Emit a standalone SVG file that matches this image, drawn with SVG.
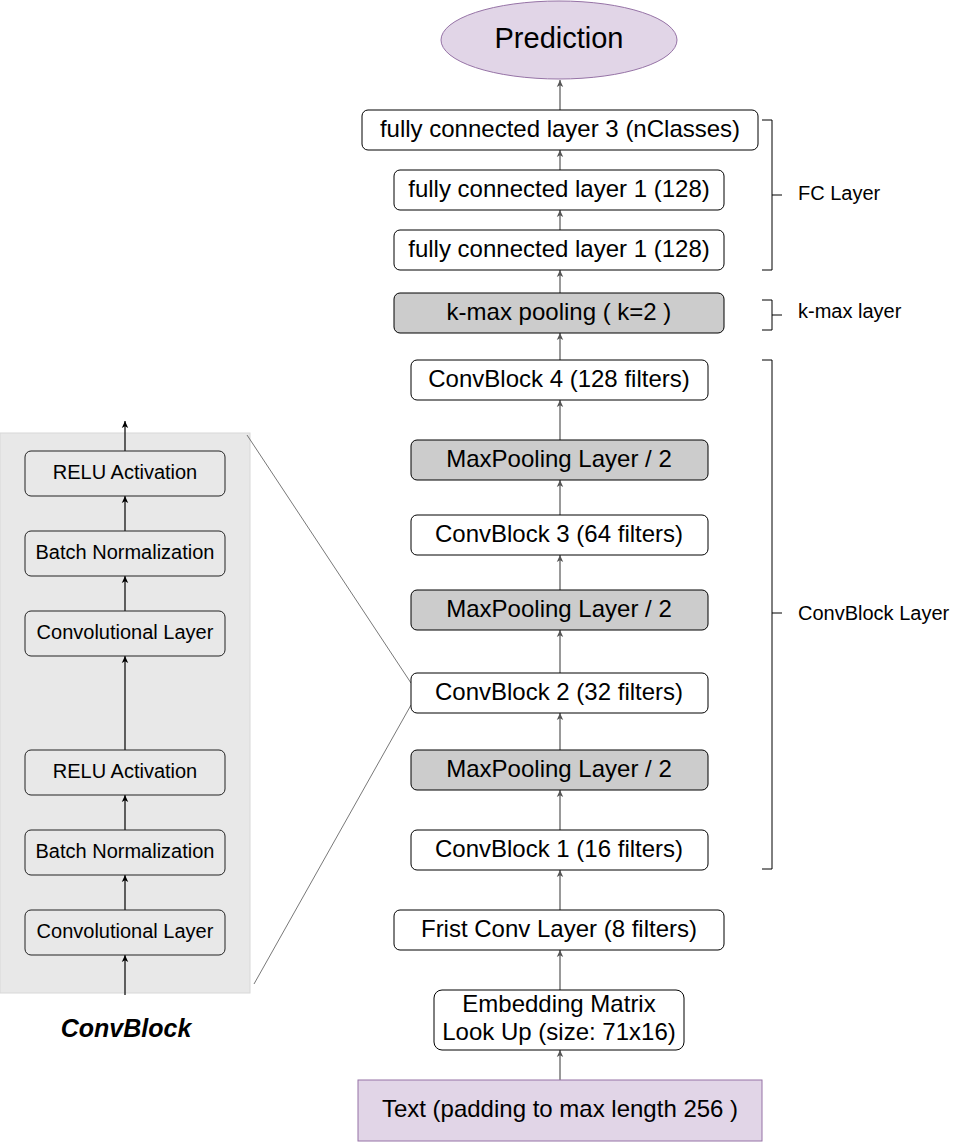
<svg xmlns="http://www.w3.org/2000/svg" width="967" height="1142" viewBox="0 0 967 1142">
<defs>
<marker id="ah" markerWidth="8" markerHeight="8" refX="7" refY="4" orient="auto" markerUnits="userSpaceOnUse">
<path d="M0,0.8 L7,4 L0,7.2 L1.8,4 Z" fill="#555"/>
</marker>
<marker id="ahk" markerWidth="8" markerHeight="8" refX="7" refY="4" orient="auto" markerUnits="userSpaceOnUse">
<path d="M0,0.8 L7,4 L0,7.2 L1.8,4 Z" fill="#000"/>
</marker>
<style>
text{font-family:"Liberation Sans",Arial,Helvetica,sans-serif;fill:#000;text-anchor:middle}
.box{fill:#fff;stroke:#000;stroke-width:1}
.grey{fill:#cccccc;stroke:#000;stroke-width:1}
.lbox{fill:#e8e8e8;stroke:#222;stroke-width:1}
.t24{font-size:24px}
.t20{font-size:20px}
.lab{font-size:20px;text-anchor:start}
.conn{stroke:#555;stroke-width:1.2;fill:none;marker-end:url(#ah)}
.connk{stroke:#000;stroke-width:1.2;fill:none;marker-end:url(#ahk)}
.br{stroke:#000;stroke-width:1;fill:none}
.zoom{stroke:#555;stroke-width:0.8;fill:none}
</style>
</defs>

<rect id="panel" x="0" y="433" width="250" height="560" fill="#e8e8e8" stroke="#d8d8d8"/>

<g id="connectors">
<line class="conn" x1="560" y1="110" x2="560" y2="80"/>
<line class="conn" x1="560" y1="170" x2="560" y2="150"/>
<line class="conn" x1="560" y1="230" x2="560" y2="210"/>
<line class="conn" x1="560" y1="293" x2="560" y2="270"/>
<line class="conn" x1="560" y1="360" x2="560" y2="333"/>
<line class="conn" x1="560" y1="440" x2="560" y2="400"/>
<line class="conn" x1="560" y1="515" x2="560" y2="480"/>
<line class="conn" x1="560" y1="590" x2="560" y2="555"/>
<line class="conn" x1="560" y1="673" x2="560" y2="630"/>
<line class="conn" x1="560" y1="750" x2="560" y2="713"/>
<line class="conn" x1="560" y1="830" x2="560" y2="790"/>
<line class="conn" x1="560" y1="910" x2="560" y2="870"/>
<line class="conn" x1="560" y1="990" x2="560" y2="950"/>
<line class="conn" x1="560" y1="1080" x2="560" y2="1050"/>
<line class="connk" x1="125" y1="451" x2="125" y2="421"/>
<line class="connk" x1="125" y1="531" x2="125" y2="496"/>
<line class="connk" x1="125" y1="611" x2="125" y2="576"/>
<line class="connk" x1="125" y1="750" x2="125" y2="656"/>
<line class="connk" x1="125" y1="830" x2="125" y2="795"/>
<line class="connk" x1="125" y1="910" x2="125" y2="875"/>
<line class="connk" x1="125" y1="995" x2="125" y2="955"/>
<line class="zoom" x1="247" y1="435" x2="411" y2="683"/>
<line class="zoom" x1="411" y1="705" x2="254" y2="984"/>
</g>

<g id="prediction">
<ellipse cx="559" cy="40" rx="118" ry="39" fill="#e1d5e7" stroke="#9673a6"/>
<text x="559" y="48" style="font-size:29px">Prediction</text>
</g>
<g id="fc3">
<rect class="box" x="362" y="110" width="396" height="40" rx="6"/>
<text class="t24" x="560" y="137">fully connected layer 3 (nClasses)</text>
</g>
<g id="fc1a">
<rect class="box" x="394" y="170" width="330" height="40" rx="6"/>
<text class="t24" x="559" y="197">fully connected layer 1 (128)</text>
</g>
<g id="fc1b">
<rect class="box" x="394" y="230" width="330" height="40" rx="6"/>
<text class="t24" x="559" y="257">fully connected layer 1 (128)</text>
</g>
<g id="kmax">
<rect class="grey" x="394" y="293" width="330" height="40" rx="6"/>
<text class="t24" x="559" y="320">k-max pooling ( k=2 )</text>
</g>
<g id="cb4">
<rect class="box" x="411" y="360" width="297" height="40" rx="6"/>
<text class="t24" x="559" y="387">ConvBlock 4 (128 filters)</text>
</g>
<g id="mp3">
<rect class="grey" x="411" y="440" width="297" height="40" rx="6"/>
<text class="t24" x="559" y="467">MaxPooling Layer / 2</text>
</g>
<g id="cb3">
<rect class="box" x="411" y="515" width="297" height="40" rx="6"/>
<text class="t24" x="559" y="542">ConvBlock 3 (64 filters)</text>
</g>
<g id="mp2">
<rect class="grey" x="411" y="590" width="297" height="40" rx="6"/>
<text class="t24" x="559" y="617">MaxPooling Layer / 2</text>
</g>
<g id="cb2">
<rect class="box" x="411" y="673" width="297" height="40" rx="6"/>
<text class="t24" x="559" y="700">ConvBlock 2 (32 filters)</text>
</g>
<g id="mp1">
<rect class="grey" x="411" y="750" width="297" height="40" rx="6"/>
<text class="t24" x="559" y="777">MaxPooling Layer / 2</text>
</g>
<g id="cb1">
<rect class="box" x="411" y="830" width="297" height="40" rx="6"/>
<text class="t24" x="559" y="857">ConvBlock 1 (16 filters)</text>
</g>
<g id="firstconv">
<rect class="box" x="394" y="910" width="330" height="40" rx="6"/>
<text class="t24" x="559" y="937">Frist Conv Layer (8 filters)</text>
</g>
<g id="embedding">
<rect class="box" x="434" y="990" width="250" height="60" rx="8"/>
<text class="t24" x="559" y="1012">Embedding Matrix</text>
<text class="t24" x="559" y="1040">Look Up (size: 71x16)</text>
</g>
<g id="textinput">
<rect x="358" y="1080" width="404" height="61" fill="#e1d5e7" stroke="#9673a6"/>
<text class="t24" x="560" y="1117">Text (padding to max length 256 )</text>
</g>

<g id="brackets">
<path class="br" d="M762,120 H772 V270 H762 M772,195 H782"/>
<path class="br" d="M762,300 H772 V330 H762 M772,315 H782"/>
<path class="br" d="M762,360 H772 V869 H762 M772,613 H782"/>
<text class="lab" x="798" y="200">FC Layer</text>
<text class="lab" x="798" y="318">k-max layer</text>
<text class="lab" x="798" y="620">ConvBlock Layer</text>
</g>

<g id="relu1">
<rect class="lbox" x="25" y="451" width="200" height="45" rx="6"/>
<text class="t20" x="125" y="479">RELU Activation</text>
</g>
<g id="bn1">
<rect class="lbox" x="25" y="531" width="200" height="45" rx="6"/>
<text class="t20" x="125" y="559">Batch Normalization</text>
</g>
<g id="conv1">
<rect class="lbox" x="25" y="611" width="200" height="45" rx="6"/>
<text class="t20" x="125" y="639">Convolutional Layer</text>
</g>
<g id="relu2">
<rect class="lbox" x="25" y="750" width="200" height="45" rx="6"/>
<text class="t20" x="125" y="778">RELU Activation</text>
</g>
<g id="bn2">
<rect class="lbox" x="25" y="830" width="200" height="45" rx="6"/>
<text class="t20" x="125" y="858">Batch Normalization</text>
</g>
<g id="conv2">
<rect class="lbox" x="25" y="910" width="200" height="45" rx="6"/>
<text class="t20" x="125" y="938">Convolutional Layer</text>
</g>
<text id="convblock-title" x="126" y="1037" style="font-size:25px;font-weight:bold;font-style:italic">ConvBlock</text>
</svg>
